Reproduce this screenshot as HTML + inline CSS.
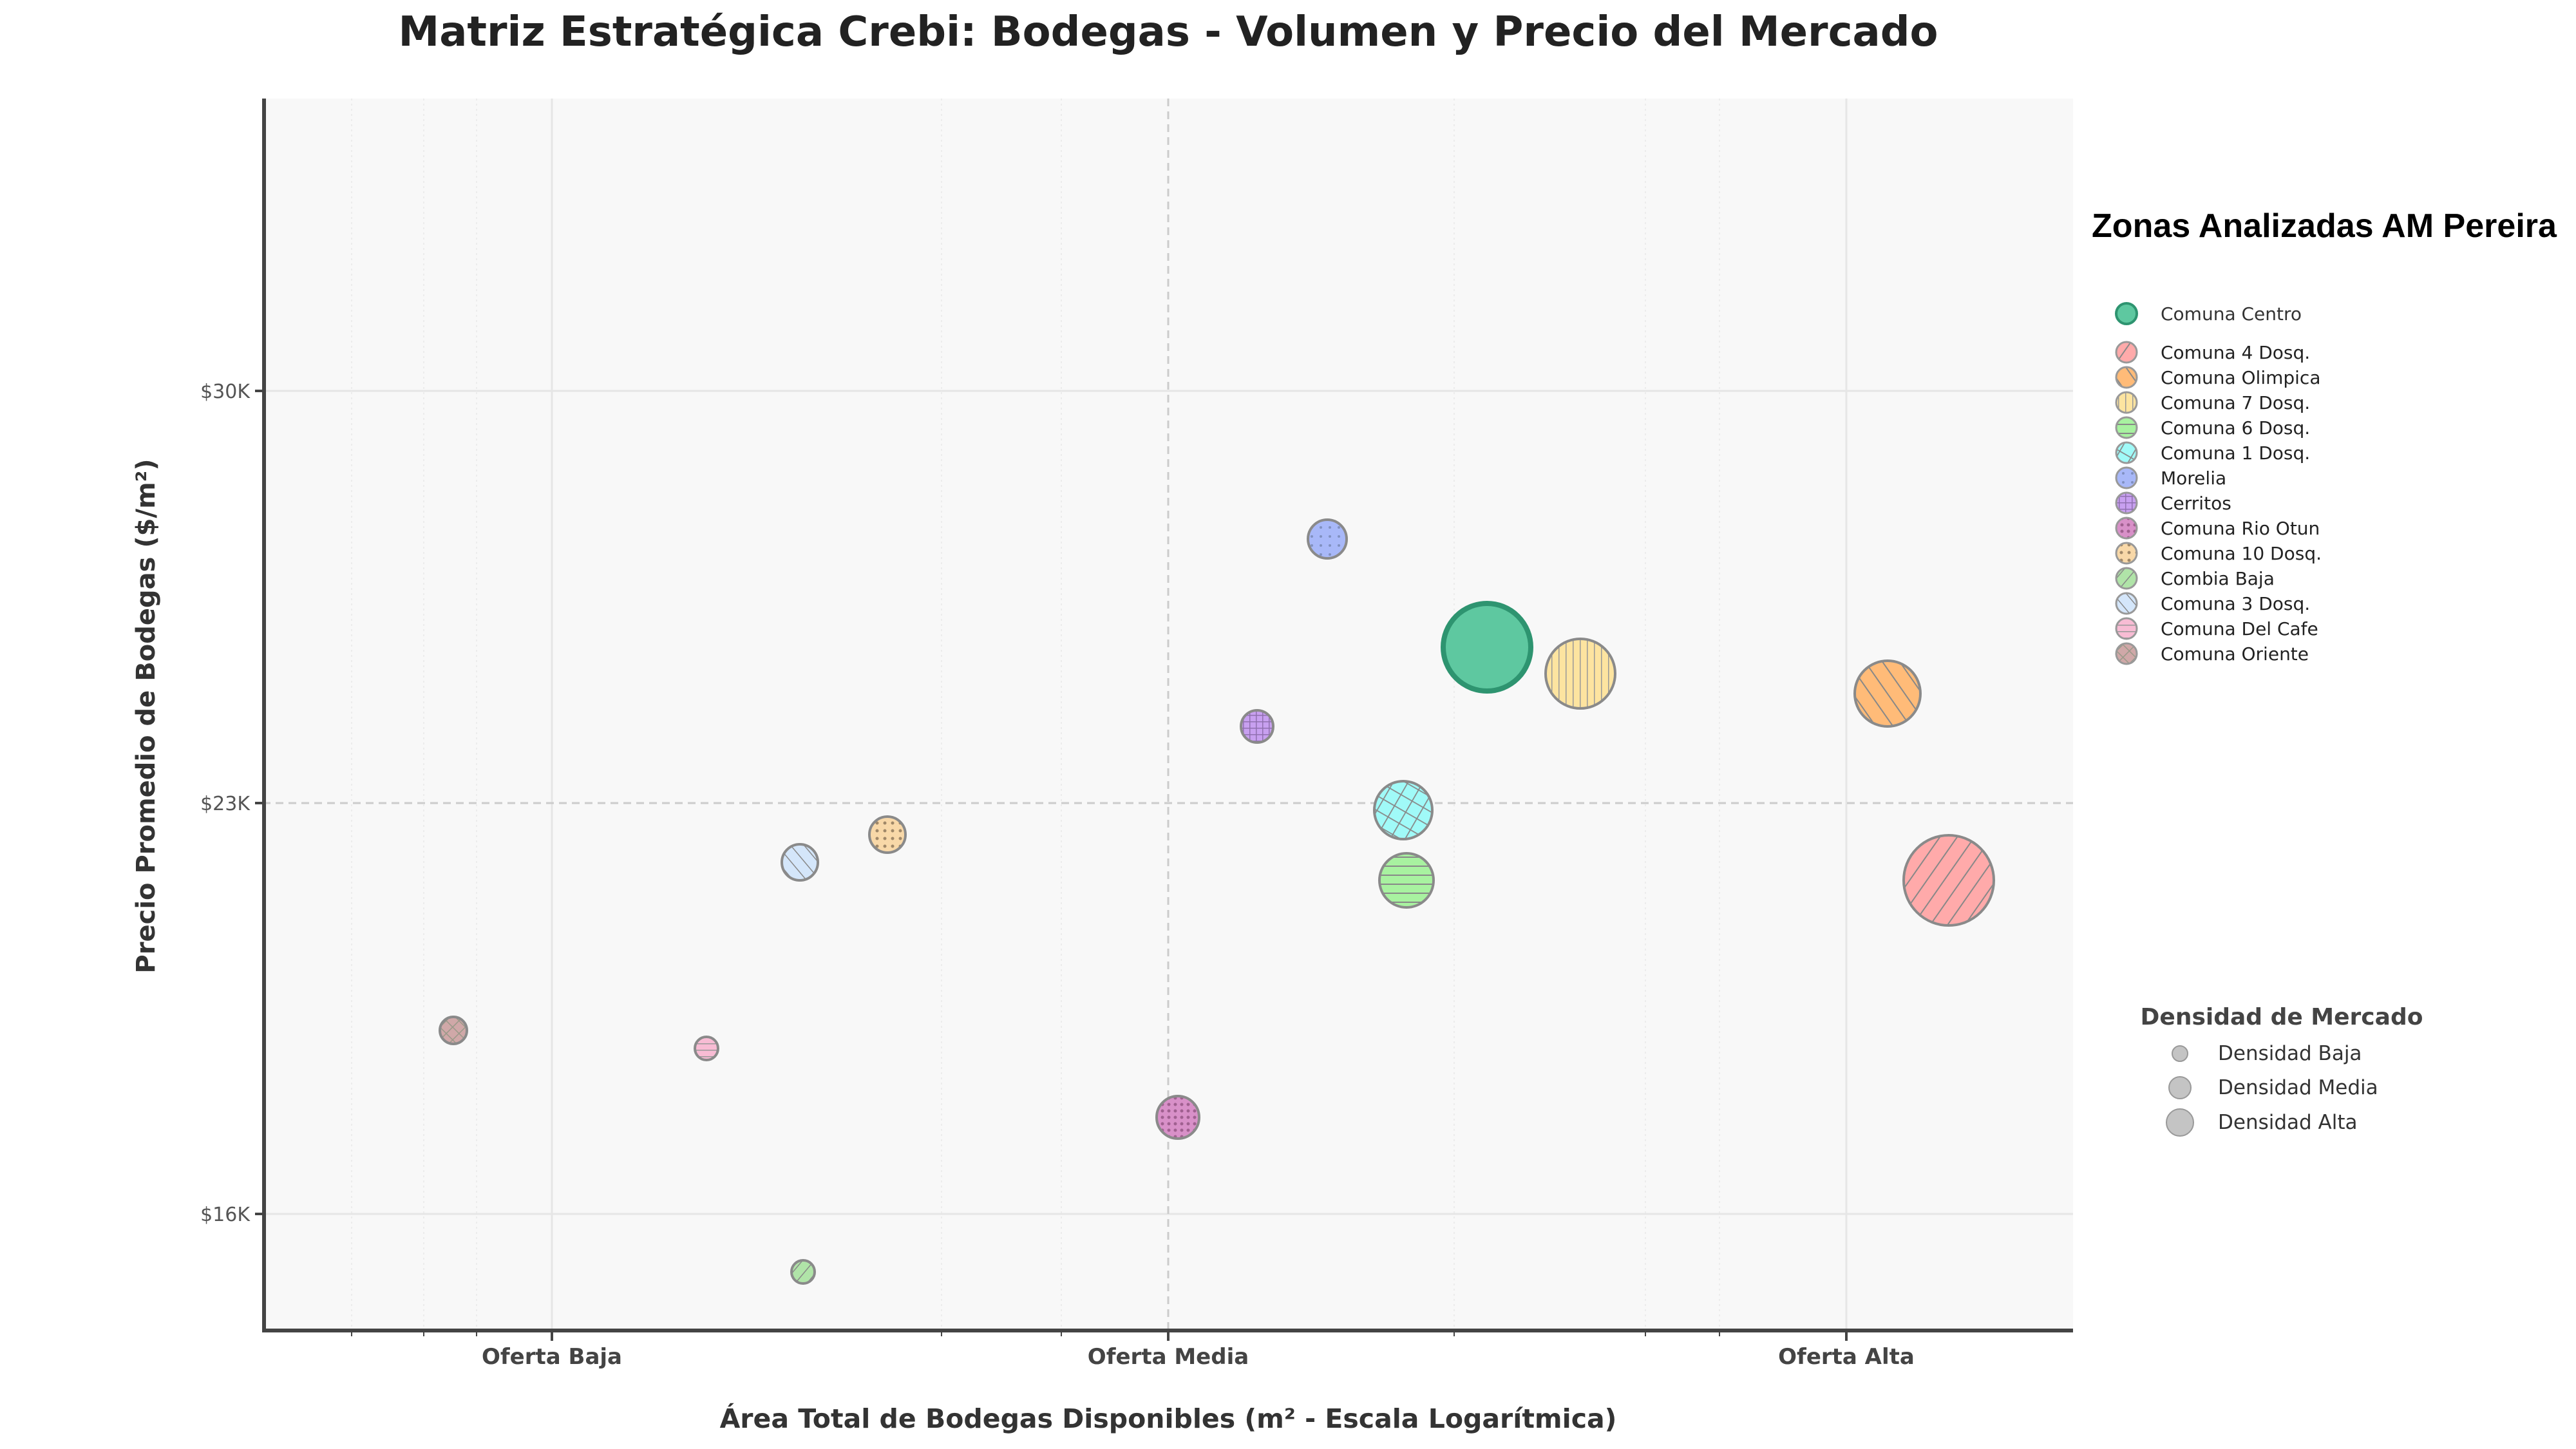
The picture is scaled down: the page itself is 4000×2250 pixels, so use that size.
<!DOCTYPE html>
<html><head><meta charset="utf-8"><style>html,body{margin:0;padding:0;background:#fff}svg{display:block}</style></head><body>
<svg width="4000" height="2250" viewBox="0 0 4000 2250" xmlns="http://www.w3.org/2000/svg" font-family="'DejaVu Sans','Liberation Sans',sans-serif">
<defs>
<pattern id="p4" width="22" height="22" patternUnits="userSpaceOnUse" patternTransform="rotate(35)"><rect width="22" height="22" fill="#ffaaaa"/><line x1="0" y1="0" x2="0" y2="22" stroke="#888" stroke-width="4"/></pattern>
<pattern id="pol" width="22" height="22" patternUnits="userSpaceOnUse" patternTransform="rotate(-35)"><rect width="22" height="22" fill="#ffbb78"/><line x1="0" y1="0" x2="0" y2="22" stroke="#888" stroke-width="4"/></pattern>
<pattern id="p7" width="11" height="11" patternUnits="userSpaceOnUse"><rect width="11" height="11" fill="#fde4a0"/><line x1="0" y1="0" x2="0" y2="11" stroke="#999" stroke-width="3"/></pattern>
<pattern id="p6" width="14" height="14" patternUnits="userSpaceOnUse"><rect width="14" height="14" fill="#a8f2a0"/><line x1="0" y1="0" x2="14" y2="0" stroke="#888" stroke-width="4"/></pattern>
<pattern id="p1" width="20" height="20" patternUnits="userSpaceOnUse" patternTransform="rotate(30)"><rect width="20" height="20" fill="#a0faf8"/><line x1="0" y1="0" x2="0" y2="20" stroke="#888" stroke-width="3.5"/><line x1="0" y1="0" x2="20" y2="0" stroke="#888" stroke-width="3.5"/></pattern>
<pattern id="pmo" width="14" height="14" patternUnits="userSpaceOnUse"><rect width="14" height="14" fill="#a8b8f8"/><circle cx="7" cy="7" r="2" fill="#8090c0"/></pattern>
<pattern id="pce" width="10" height="10" patternUnits="userSpaceOnUse"><rect width="10" height="10" fill="#c8a0f0"/><line x1="0" y1="0" x2="10" y2="0" stroke="#9070b0" stroke-width="3"/><line x1="0" y1="0" x2="0" y2="10" stroke="#9070b0" stroke-width="3"/></pattern>
<pattern id="pro" width="10" height="10" patternUnits="userSpaceOnUse"><rect width="10" height="10" fill="#d890c8"/><circle cx="5" cy="5" r="2.5" fill="#a06090"/></pattern>
<pattern id="p10" width="12" height="12" patternUnits="userSpaceOnUse"><rect width="12" height="12" fill="#f8d8a8"/><circle cx="6" cy="6" r="2.5" fill="#a08868"/></pattern>
<pattern id="pcb" width="14" height="14" patternUnits="userSpaceOnUse" patternTransform="rotate(40)"><rect width="14" height="14" fill="#b0e4a8"/><line x1="0" y1="0" x2="0" y2="14" stroke="#888" stroke-width="3"/></pattern>
<pattern id="p3" width="16" height="16" patternUnits="userSpaceOnUse" patternTransform="rotate(-40)"><rect width="16" height="16" fill="#d4e6fa"/><line x1="0" y1="0" x2="0" y2="16" stroke="#888" stroke-width="3"/></pattern>
<pattern id="pdc" width="10" height="10" patternUnits="userSpaceOnUse"><rect width="10" height="10" fill="#f8bcd4"/><line x1="0" y1="0" x2="10" y2="0" stroke="#999" stroke-width="3"/></pattern>
<pattern id="por" width="14" height="14" patternUnits="userSpaceOnUse" patternTransform="rotate(45)"><rect width="14" height="14" fill="#d0a8a8"/><line x1="0" y1="0" x2="0" y2="14" stroke="#998" stroke-width="3"/><line x1="0" y1="0" x2="14" y2="0" stroke="#998" stroke-width="3"/></pattern>
</defs>

<text x="1814" y="71" text-anchor="middle" font-size="64" font-weight="bold" fill="#222">Matriz Estratégica Crebi: Bodegas - Volumen y Precio del Mercado</text>

<rect x="408" y="153" width="2811" height="1913" fill="#f8f8f8"/>
<g stroke="#ececec" stroke-width="2" stroke-dasharray="3,5">
<line x1="546" y1="153" x2="546" y2="2066"/><line x1="658" y1="153" x2="658" y2="2066"/><line x1="740" y1="153" x2="740" y2="2066"/>
<line x1="1462" y1="153" x2="1462" y2="2066"/><line x1="1648" y1="153" x2="1648" y2="2066"/>
<line x1="2258" y1="153" x2="2258" y2="2066"/><line x1="2555" y1="153" x2="2555" y2="2066"/><line x1="2670" y1="153" x2="2670" y2="2066"/>
</g>
<g stroke="#e6e6e6" stroke-width="3">
<line x1="857" y1="153" x2="857" y2="2066"/><line x1="2867" y1="153" x2="2867" y2="2066"/>
<line x1="408" y1="607" x2="3219" y2="607"/><line x1="408" y1="1885" x2="3219" y2="1885"/>
</g>
<g stroke="#cccccc" stroke-width="3" stroke-dasharray="12,8">
<line x1="1814" y1="153" x2="1814" y2="2066"/><line x1="408" y1="1247" x2="3219" y2="1247"/>
</g>

<g stroke="#8a8a8a" stroke-width="4">
<circle cx="3026" cy="1367" r="70" fill="url(#p4)"/>
<circle cx="2931" cy="1077" r="51" fill="url(#pol)"/>
<circle cx="2454" cy="1046" r="54" fill="url(#p7)"/>
<circle cx="2184" cy="1367" r="42" fill="url(#p6)"/>
<circle cx="2179" cy="1258" r="45" fill="url(#p1)"/>
<circle cx="2061" cy="837" r="30" fill="url(#pmo)"/>
<circle cx="1952" cy="1128" r="25" fill="url(#pce)"/>
<circle cx="1829" cy="1735" r="33" fill="url(#pro)"/>
<circle cx="1378" cy="1296" r="28" fill="url(#p10)"/>
<circle cx="1242" cy="1339" r="28" fill="url(#p3)"/>
<circle cx="1247" cy="1975" r="18" fill="url(#pcb)"/>
<circle cx="1097" cy="1628" r="18" fill="url(#pdc)"/>
<circle cx="704" cy="1600" r="21" fill="url(#por)"/>
</g>
<circle cx="2309" cy="1005" r="68" fill="#5ec8a0" stroke="#2e9470" stroke-width="8"/>

<line x1="410" y1="153" x2="410" y2="2068" stroke="#444" stroke-width="6"/>
<line x1="407" y1="2066" x2="3219" y2="2066" stroke="#444" stroke-width="6"/>
<g stroke="#444" stroke-width="4">
<line x1="396" y1="607" x2="410" y2="607"/><line x1="396" y1="1247" x2="410" y2="1247"/><line x1="396" y1="1885" x2="410" y2="1885"/>
<line x1="857" y1="2066" x2="857" y2="2082"/><line x1="1814" y1="2066" x2="1814" y2="2082"/><line x1="2867" y1="2066" x2="2867" y2="2082"/>
</g>
<g stroke="#444" stroke-width="2">
<line x1="546" y1="2066" x2="546" y2="2075"/><line x1="658" y1="2066" x2="658" y2="2075"/><line x1="740" y1="2066" x2="740" y2="2075"/>
<line x1="1462" y1="2066" x2="1462" y2="2075"/><line x1="1648" y1="2066" x2="1648" y2="2075"/>
<line x1="2258" y1="2066" x2="2258" y2="2075"/><line x1="2555" y1="2066" x2="2555" y2="2075"/><line x1="2670" y1="2066" x2="2670" y2="2075"/>
</g>
<g font-size="30" fill="#555" text-anchor="end">
<text x="388" y="618">$30K</text><text x="388" y="1258">$23K</text><text x="388" y="1896">$16K</text>
</g>
<g font-size="34" font-weight="bold" fill="#444" text-anchor="middle">
<text x="857" y="2118">Oferta Baja</text><text x="1814" y="2118">Oferta Media</text><text x="2867" y="2118">Oferta Alta</text>
</g>
<text x="1814" y="2217" text-anchor="middle" font-size="41" font-weight="bold" fill="#333">Área Total de Bodegas Disponibles (m² - Escala Logarítmica)</text>
<text transform="translate(240,1112) rotate(-90)" text-anchor="middle" font-size="40" font-weight="bold" fill="#333">Precio Promedio de Bodegas ($/m²)</text>

<text x="3248" y="368" font-family="'Liberation Sans',sans-serif" font-size="52" font-weight="bold" fill="#000" textLength="722" lengthAdjust="spacingAndGlyphs">Zonas Analizadas AM Pereira</text>
<circle cx="3302" cy="487" r="16" fill="#5ec8a0" stroke="#2e9470" stroke-width="4"/>
<text x="3355" y="497" font-size="28" fill="#333">Comuna Centro</text>
<g stroke="#999" stroke-width="3">
<circle cx="3302" cy="547" r="16" fill="url(#p4)"/>
<circle cx="3302" cy="586" r="16" fill="url(#pol)"/>
<circle cx="3302" cy="625" r="16" fill="url(#p7)"/>
<circle cx="3302" cy="664" r="16" fill="url(#p6)"/>
<circle cx="3302" cy="703" r="16" fill="url(#p1)"/>
<circle cx="3302" cy="742" r="16" fill="url(#pmo)"/>
<circle cx="3302" cy="781" r="16" fill="url(#pce)"/>
<circle cx="3302" cy="820" r="16" fill="url(#pro)"/>
<circle cx="3302" cy="859" r="16" fill="url(#p10)"/>
<circle cx="3302" cy="898" r="16" fill="url(#pcb)"/>
<circle cx="3302" cy="937" r="16" fill="url(#p3)"/>
<circle cx="3302" cy="976" r="16" fill="url(#pdc)"/>
<circle cx="3302" cy="1015" r="16" fill="url(#por)"/>
</g>
<g font-size="28" fill="#222">
<text x="3355" y="557">Comuna 4 Dosq.</text>
<text x="3355" y="596">Comuna Olimpica</text>
<text x="3355" y="635">Comuna 7 Dosq.</text>
<text x="3355" y="674">Comuna 6 Dosq.</text>
<text x="3355" y="713">Comuna 1 Dosq.</text>
<text x="3355" y="752">Morelia</text>
<text x="3355" y="791">Cerritos</text>
<text x="3355" y="830">Comuna Rio Otun</text>
<text x="3355" y="869">Comuna 10 Dosq.</text>
<text x="3355" y="908">Combia Baja</text>
<text x="3355" y="947">Comuna 3 Dosq.</text>
<text x="3355" y="986">Comuna Del Cafe</text>
<text x="3355" y="1025">Comuna Oriente</text>
</g>

<text x="3543" y="1591" text-anchor="middle" font-size="36" font-weight="bold" fill="#444">Densidad de Mercado</text>
<g fill="#c4c4c4" stroke="#999" stroke-width="2">
<circle cx="3385" cy="1636" r="12"/><circle cx="3385" cy="1689" r="17"/><circle cx="3385" cy="1743" r="21"/>
</g>
<g font-size="31" fill="#333">
<text x="3444" y="1646">Densidad Baja</text><text x="3444" y="1699">Densidad Media</text><text x="3444" y="1753">Densidad Alta</text>
</g>
</svg>
</body></html>
